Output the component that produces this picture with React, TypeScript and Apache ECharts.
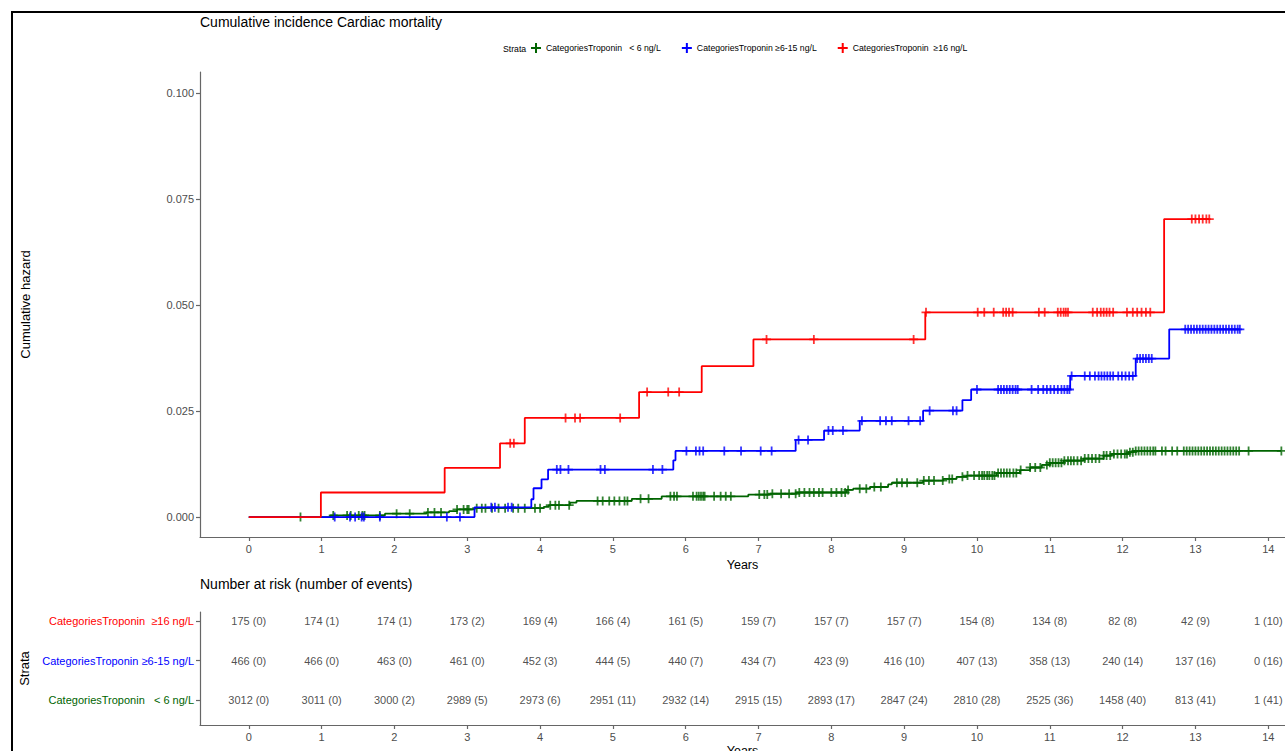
import React, { useEffect, useRef } from "react";
import * as echarts from "echarts";

const strata = [
  "CategoriesTroponin   < 6 ng/L",
  "CategoriesTroponin ≥6-15 ng/L",
  "CategoriesTroponin  ≥16 ng/L",
];
const colors = ["#006400", "#0000FF", "#FF0000"];

// step curves (time, cumulative hazard)
const lowTimes = [0, 1.12, 1.87, 2.44, 2.75, 2.86, 3.1, 4.05, 4.12, 4.41, 4.5, 5.26, 5.67, 6.86, 7.16, 7.52, 8.21, 8.3, 8.53, 8.78, 8.83, 9.26, 9.54, 9.72, 9.86, 10.27, 10.59, 10.73, 10.89, 11.0, 11.19, 11.46, 11.74, 11.85, 12.08, 12.15, 14.18];
const lowHaz = [0, 0.0004, 0.0008, 0.0011, 0.0014, 0.0018, 0.0021, 0.0024, 0.0028, 0.0034, 0.0038, 0.0043, 0.0049, 0.0053, 0.0055, 0.0058, 0.0064, 0.0067, 0.0071, 0.0077, 0.0081, 0.0086, 0.009, 0.0095, 0.0098, 0.0104, 0.0111, 0.0117, 0.0123, 0.0128, 0.0133, 0.0138, 0.0145, 0.0149, 0.0153, 0.0156, 0.0156];
const midTimes = [0, 3.1, 3.88, 3.91, 4.02, 4.11, 5.83, 5.86, 7.51, 7.9, 8.39, 9.26, 9.8, 9.92, 11.28, 12.18, 12.64, 13.61];
const midHaz = [0, 0.0023, 0.0042, 0.0068, 0.0089, 0.0112, 0.0134, 0.0156, 0.0182, 0.0204, 0.0227, 0.0251, 0.0276, 0.0301, 0.0333, 0.0374, 0.0443, 0.0443];
const highTimes = [0, 0.99, 2.69, 3.45, 3.79, 5.36, 6.22, 6.93, 9.29, 12.57, 13.19];
const highHaz = [0, 0.0058, 0.0116, 0.0174, 0.0234, 0.0295, 0.0356, 0.0419, 0.0483, 0.0703, 0.0703];

// censoring times
const lowCensor = [0.71, 1.16, 1.35, 1.4, 1.51, 1.56, 1.59, 1.8, 2.03, 2.21, 2.46, 2.55, 2.64, 2.86, 2.95, 3.0, 3.02, 3.13, 3.2, 3.25, 3.34, 3.43, 3.52, 3.63, 3.7, 3.79, 3.93, 4.0, 4.14, 4.21, 4.26, 4.4, 4.79, 4.86, 4.95, 5.02, 5.09, 5.16, 5.2, 5.38, 5.49, 5.79, 5.84, 5.88, 6.1, 6.15, 6.18, 6.21, 6.24, 6.26, 6.39, 6.48, 6.55, 6.62, 7.01, 7.08, 7.12, 7.19, 7.31, 7.42, 7.51, 7.56, 7.63, 7.7, 7.76, 7.83, 7.88, 8.0, 8.07, 8.14, 8.19, 8.23, 8.39, 8.48, 8.59, 8.68, 8.9, 8.97, 9.04, 9.18, 9.27, 9.34, 9.41, 9.53, 9.62, 9.66, 9.8, 9.87, 9.96, 10.03, 10.07, 10.1, 10.14, 10.17, 10.21, 10.24, 10.29, 10.33, 10.37, 10.41, 10.45, 10.5, 10.54, 10.6, 10.73, 10.8, 10.87, 10.96, 11.0, 11.04, 11.08, 11.12, 11.16, 11.2, 11.25, 11.29, 11.33, 11.38, 11.43, 11.48, 11.53, 11.58, 11.63, 11.68, 11.74, 11.78, 11.83, 11.88, 11.93, 11.98, 12.03, 12.06, 12.1, 12.14, 12.18, 12.22, 12.26, 12.3, 12.34, 12.38, 12.42, 12.45, 12.54, 12.59, 12.68, 12.75, 12.84, 12.88, 12.92, 12.96, 13.0, 13.04, 13.08, 13.12, 13.16, 13.2, 13.24, 13.28, 13.32, 13.36, 13.4, 13.44, 13.48, 13.52, 13.56, 13.6, 13.73, 14.18];
const midCensor = [1.18, 1.39, 1.46, 1.55, 1.58, 1.8, 2.72, 2.9, 3.33, 3.38, 3.56, 3.61, 4.23, 4.28, 4.39, 4.83, 4.89, 5.55, 5.68, 6.01, 6.14, 6.19, 6.24, 6.53, 6.76, 7.03, 7.18, 7.55, 7.68, 7.96, 8.02, 8.16, 8.42, 8.67, 8.75, 8.83, 9.06, 9.22, 9.35, 9.67, 9.72, 10.0, 10.29, 10.33, 10.37, 10.41, 10.45, 10.49, 10.53, 10.56, 10.75, 10.84, 10.91, 10.96, 11.01, 11.06, 11.11, 11.16, 11.2, 11.24, 11.27, 11.3, 11.48, 11.55, 11.62, 11.67, 11.71, 11.75, 11.79, 11.83, 11.87, 11.94, 11.99, 12.04, 12.09, 12.14, 12.2, 12.24, 12.28, 12.32, 12.36, 12.4, 12.86, 12.9, 12.94, 12.98, 13.02, 13.06, 13.1, 13.14, 13.18, 13.22, 13.26, 13.3, 13.34, 13.38, 13.42, 13.46, 13.5, 13.54, 13.58, 13.61];
const highCensor = [3.59, 3.64, 4.35, 4.48, 4.55, 5.1, 5.47, 5.76, 5.91, 7.11, 7.76, 9.13, 9.3, 10.01, 10.1, 10.23, 10.36, 10.4, 10.44, 10.49, 10.85, 10.93, 11.11, 11.15, 11.19, 11.22, 11.25, 11.59, 11.65, 11.7, 11.74, 11.78, 11.82, 11.87, 12.06, 12.14, 12.2, 12.26, 12.32, 12.38, 12.95, 13.0, 13.05, 13.1, 13.15, 13.19];

// axes
const xTicks = [0, 1, 2, 3, 4, 5, 6, 7, 8, 9, 10, 11, 12, 13, 14];
const yTicks = [0, 0.025, 0.05, 0.075, 0.1];

// number at risk table
const riskTimes = [0, 1, 2, 3, 4, 5, 6, 7, 8, 9, 10, 11, 12, 13, 14];
const highAtRisk = [175, 174, 174, 173, 169, 166, 161, 159, 157, 157, 154, 134, 82, 42, 1];
const highEvents = [0, 1, 1, 2, 4, 4, 5, 7, 7, 7, 8, 8, 8, 9, 10];
const midAtRisk = [466, 466, 463, 461, 452, 444, 440, 434, 423, 416, 407, 358, 240, 137, 0];
const midEvents = [0, 0, 0, 0, 3, 5, 7, 7, 9, 10, 13, 13, 14, 16, 16];
const lowAtRisk = [3012, 3011, 3000, 2989, 2973, 2951, 2932, 2915, 2893, 2847, 2810, 2525, 1458, 813, 1];
const lowEvents = [0, 0, 2, 5, 6, 11, 14, 15, 17, 24, 28, 36, 40, 41, 41];

const PLUS = "path://M4,0h2v4h4v2h-4v4h-2v-4h-4v-2h4z";
const FONT = "Liberation Sans, Arial, sans-serif";

function levelAt(times: number[], vals: number[], t: number) {
  let v = vals[0];
  for (let i = 0; i < times.length; i++) if (times[i] <= t) v = vals[i];
  return v;
}

export default function App() {
  const ref = useRef<HTMLDivElement>(null);
  useEffect(() => {
    if (!ref.current) return;
    const chart = echarts.init(ref.current, undefined, { renderer: "svg" });
    const curves = [
      [lowTimes, lowHaz, lowCensor],
      [midTimes, midHaz, midCensor],
      [highTimes, highHaz, highCensor],
    ] as number[][][];
    const series: any[] = [];
    curves.forEach(([ts, vs, cs], k) => {
      series.push({
        name: strata[k],
        type: "line",
        step: "end",
        xAxisIndex: 0,
        yAxisIndex: 0,
        showSymbol: false,
        symbol: "none",
        color: colors[k],
        lineStyle: { width: 1.8, color: colors[k] },
        data: ts.map((t, i) => [t, vs[i]]),
        z: 2 + k * 2,
      });
      series.push({
        name: strata[k],
        type: "scatter",
        xAxisIndex: 0,
        yAxisIndex: 0,
        symbol: PLUS,
        symbolSize: 9,
        color: colors[k],
        itemStyle: { color: colors[k] },
        data: cs.map((t) => [t, levelAt(ts, vs, t)]),
        z: 3 + k * 2,
      });
    });
    const rows = [
      [lowAtRisk, lowEvents, 1],
      [midAtRisk, midEvents, 2],
      [highAtRisk, highEvents, 3],
    ] as any[];
    const tableData: any[] = [];
    rows.forEach(([ar, ev, r]: any) => {
      riskTimes.forEach((t, i) => tableData.push([t, r, `${ar[i]} (${ev[i]})`]));
    });
    series.push({
      type: "scatter",
      xAxisIndex: 1,
      yAxisIndex: 1,
      symbolSize: 1,
      itemStyle: { color: "rgba(0,0,0,0)" },
      label: {
        show: true,
        position: "inside",
        formatter: (p: any) => p.data[2],
        color: "#222",
        fontSize: 11,
        fontFamily: FONT,
      },
      data: tableData,
      silent: true,
    });

    const axisLine = { onZero: false, lineStyle: { color: "#666", width: 1.2 } };
    const axisTick = { length: 4, lineStyle: { color: "#666", width: 1.2 } };

    chart.setOption({
      animation: false,
      backgroundColor: "#fff",
      textStyle: { fontFamily: FONT },
      title: [
        {
          text: "Cumulative incidence Cardiac mortality",
          left: 200,
          top: 15,
          padding: 0,
          textStyle: { fontSize: 14, fontWeight: "normal", color: "#000", fontFamily: FONT },
        },
        {
          text: "Number at risk (number of events)",
          left: 200,
          top: 577,
          padding: 0,
          textStyle: { fontSize: 14, fontWeight: "normal", color: "#000", fontFamily: FONT },
        },
      ],
      legend: {
        left: 531,
        top: 43,
        padding: 0,
        itemWidth: 10,
        itemHeight: 10,
        itemGap: 21,
        textStyle: { fontSize: 8.7, color: "#000", fontFamily: FONT },
        data: strata.map((s, k) => ({ name: s, icon: PLUS, itemStyle: { color: colors[k] } })),
      },
      graphic: [
        {
          type: "rect",
          shape: { x: 12, y: 12, width: 1400, height: 900 },
          style: { fill: "none", stroke: "#000", lineWidth: 2 },
          silent: true,
        },
        {
          type: "text",
          left: 503,
          top: 44,
          style: { text: "Strata", fontSize: 8.7, fill: "#000", fontFamily: FONT },
        },
      ],
      grid: [
        { left: 200, right: 0, top: 72, height: 465, outerBoundsMode: "none", containLabel: false },
        { left: 200, right: 0, top: 612, height: 113, outerBoundsMode: "none", containLabel: false },
      ],
      xAxis: [
        {
          gridIndex: 0,
          type: "value",
          min: -0.67,
          max: 14.23,
          name: "Years",
          nameLocation: "middle",
          nameGap: 18,
          nameTextStyle: { fontSize: 12.5, color: "#000", fontFamily: FONT },
          axisLine,
          axisTick: { ...axisTick, customValues: xTicks },
          axisLabel: { customValues: xTicks, fontSize: 11, color: "#4d4d4d", margin: 6 },
          splitLine: { show: false },
        },
        {
          gridIndex: 1,
          type: "value",
          min: -0.67,
          max: 14.23,
          name: "Years",
          nameLocation: "middle",
          nameGap: 19,
          nameTextStyle: { fontSize: 12.5, color: "#000", fontFamily: FONT },
          axisLine,
          axisTick: { ...axisTick, customValues: xTicks },
          axisLabel: { customValues: xTicks, fontSize: 11, color: "#4d4d4d", margin: 6 },
          splitLine: { show: false },
        },
      ],
      yAxis: [
        {
          gridIndex: 0,
          type: "value",
          min: -0.0047,
          max: 0.105,
          name: "Cumulative hazard",
          nameLocation: "middle",
          nameGap: 168,
          nameRotate: 90,
          nameTextStyle: { fontSize: 13, color: "#000", fontFamily: FONT },
          axisLine: { show: true, ...axisLine },
          axisTick: { show: true, ...axisTick, customValues: yTicks },
          axisLabel: {
            customValues: yTicks,
            fontSize: 11,
            color: "#4d4d4d",
            margin: 6,
            formatter: (v: number) => v.toFixed(3),
          },
          splitLine: { show: false },
        },
        {
          gridIndex: 1,
          type: "value",
          min: 0.37,
          max: 3.23,
          name: "Strata",
          nameLocation: "middle",
          nameGap: 168,
          nameRotate: 90,
          nameTextStyle: { fontSize: 13, color: "#000", fontFamily: FONT },
          axisLine: { show: true, ...axisLine },
          axisTick: { show: true, ...axisTick, customValues: [1, 2, 3] },
          axisLabel: {
            customValues: [1, 2, 3],
            margin: 6,
            formatter: (v: number) => `{r${Math.round(v)}|${strata[Math.round(v) - 1]}}`,
            rich: {
              r1: { color: colors[0], fontSize: 11, fontFamily: FONT },
              r2: { color: colors[1], fontSize: 11, fontFamily: FONT },
              r3: { color: colors[2], fontSize: 11, fontFamily: FONT },
            },
          },
          splitLine: { show: false },
        },
      ],
      series,
    });
    return () => chart.dispose();
  }, []);
  return (
    <div
      ref={ref}
      style={{ position: "absolute", left: 0, top: 0, width: 1285, height: 751, background: "#fff" }}
    />
  );
}
